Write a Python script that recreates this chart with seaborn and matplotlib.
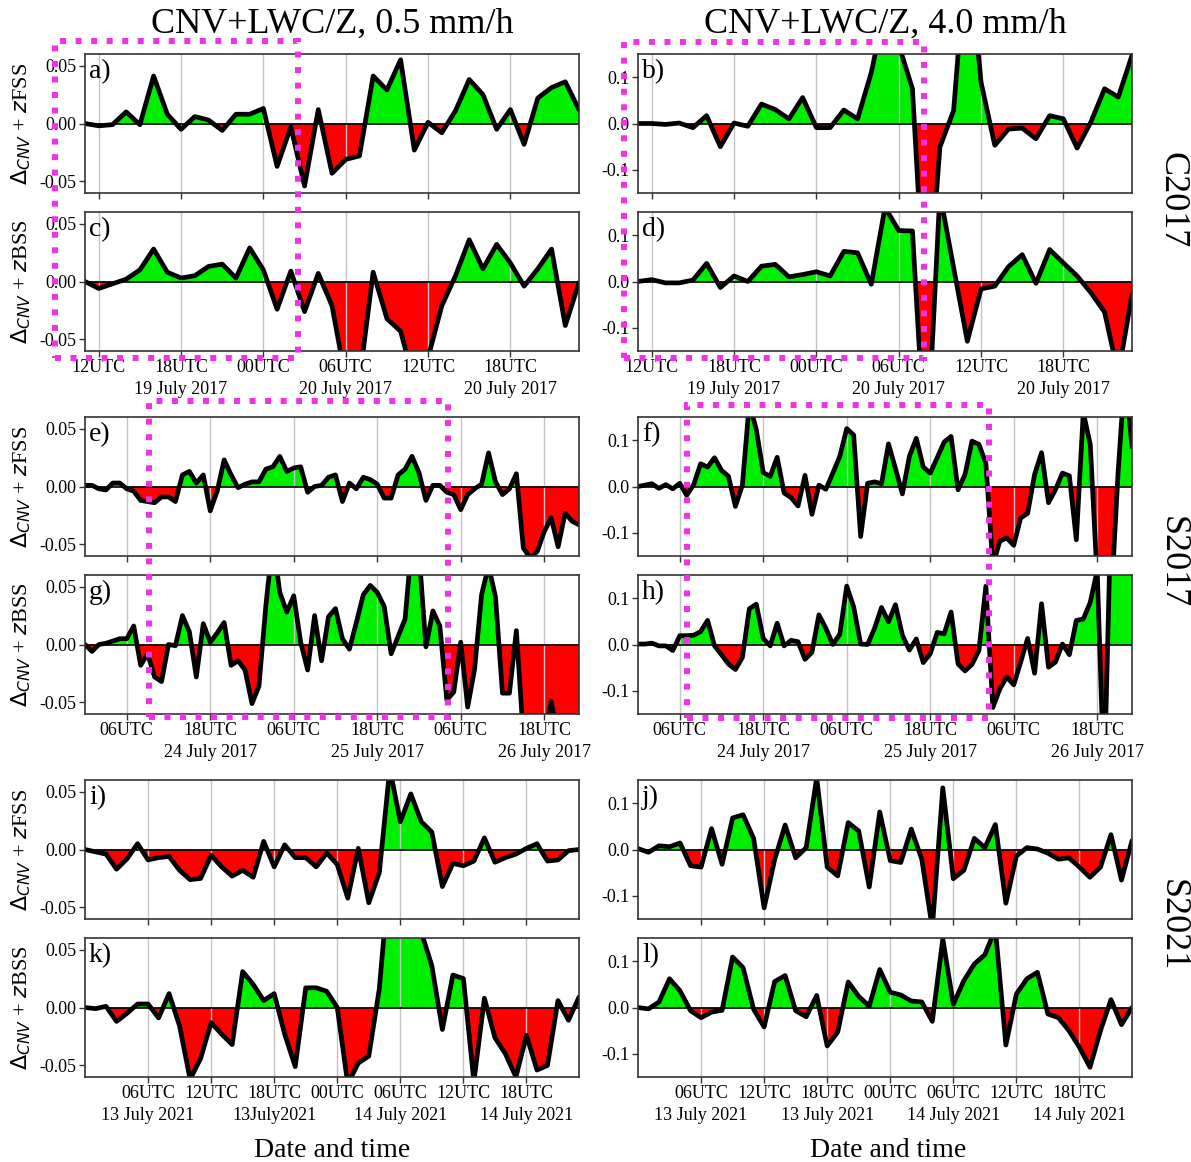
import numpy as np
import pandas as pd
import matplotlib
matplotlib.use("Agg")
import matplotlib.pyplot as plt
import matplotlib.dates as mdates
from matplotlib.patches import Rectangle
from matplotlib.ticker import FormatStrFormatter
import seaborn as sns

sns.set_theme(style="ticks")
plt.rcParams["font.family"] = ["Liberation Serif", "DejaVu Sans"]
plt.rcParams["mathtext.fontset"] = "dejavusans"
plt.rcParams["axes.unicode_minus"] = False
for key in ["text.color", "axes.labelcolor", "xtick.color", "ytick.color"]:
    plt.rcParams[key] = "black"

# ---------------- data ----------------
# C2017 case (hourly from 11UTC 19 July 2017)
c2017_start = "2017-07-19 11:00"
a_fss_05 = [0.0, -0.002, -0.001, 0.010, -0.001, 0.041, 0.008, -0.005, 0.006, 0.003, -0.006, 0.008, 0.008,
            0.013, -0.037, -0.003, -0.054, 0.012, -0.043, -0.031, -0.028, 0.041, 0.029, 0.055, -0.023, 0.001,
            -0.008, 0.011, 0.038, 0.025, -0.005, 0.012, -0.018, 0.022, 0.031, 0.036, 0.012]
c_bss_05 = [0.0, -0.006, -0.002, 0.002, 0.010, 0.028, 0.008, 0.003, 0.005, 0.013, 0.015, 0.003, 0.029,
            0.010, -0.024, 0.009, -0.026, 0.007, -0.021, -0.085, -0.085, 0.008, -0.032, -0.043, -0.087, -0.066,
            -0.021, 0.005, 0.036, 0.011, 0.032, 0.016, -0.004, 0.011, 0.028, -0.038, -0.001]
b_fss_40 = [0.0, 0.0, -0.002, 0.001, -0.009, 0.017, -0.050, 0.001, -0.006, 0.042, 0.030, 0.010, 0.056,
            -0.009, -0.009, 0.029, 0.010, 0.11, 0.25, 0.17, 0.075, -0.45, -0.051, 0.028, 0.4, 0.089,
            -0.047, -0.012, -0.010, -0.033, 0.017, 0.010, -0.053, 0.003, 0.075, 0.057, 0.147]
d_bss_40 = [0.0, 0.004, -0.003, -0.003, 0.003, 0.039, -0.013, 0.012, 0.0, 0.033, 0.037, 0.010, 0.015,
            0.021, 0.012, 0.065, 0.062, -0.006, 0.16, 0.110, 0.109, -0.4, 0.19, 0.03, -0.129, -0.016,
            -0.010, 0.032, 0.058, -0.004, 0.069, 0.040, 0.012, -0.024, -0.066, -0.2, -0.028]
c2017_ticks = ["2017-07-19 12:00", "2017-07-19 18:00", "2017-07-20 00:00",
               "2017-07-20 06:00", "2017-07-20 12:00", "2017-07-20 18:00"]
c2017_hours = ["12UTC", "18UTC", "00UTC", "06UTC", "12UTC", "18UTC"]
c2017_dates = ["", "19 July 2017", "", "20 July 2017", "", "20 July 2017"]

# S2017 case (hourly from 00UTC 24 July 2017)
s2017_start = "2017-07-24 00:00"
e_fss_05 = [0.001, 0.001, -0.002, -0.003, 0.003, 0.003, -0.002, -0.004, -0.012, -0.013, -0.014, -0.009,
            -0.009, -0.013, 0.010, 0.013, 0.003, 0.010, -0.021, -0.004, 0.023, 0.010, -0.001, 0.002,
            0.004, 0.004, 0.015, 0.017, 0.026, 0.013, 0.016, 0.017, -0.005, 0.000, 0.001, 0.008,
            0.010, -0.013, 0.003, -0.002, 0.008, 0.006, 0.002, -0.010, -0.010, 0.010, 0.015, 0.026,
            0.012, -0.012, 0.001, 0.001, -0.005, -0.007, -0.020, -0.007, -0.002, 0.002, 0.029, 0.004,
            -0.007, -0.002, 0.011, -0.053, -0.062, -0.056, -0.039, -0.027, -0.052, -0.023, -0.030, -0.033]
g_bss_05 = [0.0, -0.006, 0.000, 0.001, 0.003, 0.005, 0.005, 0.016, -0.018, -0.008, -0.028, -0.032,
            0.0, -0.001, 0.025, 0.011, -0.028, 0.018, 0.002, 0.010, 0.019, -0.018, -0.014, -0.022,
            -0.051, -0.036, 0.034, 0.09, 0.045, 0.028, 0.042, 0.002, -0.022, 0.025, -0.014, 0.024,
            0.031, 0.005, -0.004, 0.019, 0.043, 0.051, 0.045, 0.033, -0.008, 0.007, 0.022, 0.09,
            0.08, -0.002, 0.029, 0.016, -0.048, -0.041, 0.002, -0.054, -0.021, 0.043, 0.068, 0.041,
            -0.042, -0.042, 0.012, -0.08, -0.08, -0.08, -0.08, -0.049, -0.08, -0.08, -0.08, -0.08]
f_fss_40 = [0.0, 0.003, 0.006, -0.004, 0.004, -0.005, 0.007, -0.019, 0.004, 0.049, 0.042, 0.062,
            0.035, 0.022, -0.043, 0.003, 0.18, 0.123, 0.030, 0.022, 0.063, -0.014, -0.024, -0.042,
            0.024, -0.060, 0.003, -0.006, 0.029, 0.065, 0.125, 0.111, -0.108, 0.007, 0.010, 0.006,
            0.092, 0.039, -0.016, 0.065, 0.104, 0.042, 0.029, 0.062, 0.096, 0.108, -0.007, 0.026,
            0.098, 0.091, 0.050, -0.17, -0.118, -0.111, -0.127, -0.068, -0.058, 0.026, 0.073, -0.035,
            -0.007, 0.029, 0.023, -0.115, 0.16, 0.091, -0.2, -0.3, -0.25, 0.03, 0.25, 0.085]
h_bss_40 = [0.001, 0.001, 0.003, -0.003, -0.003, -0.013, 0.019, 0.019, 0.020, 0.028, 0.052, -0.003,
            -0.022, -0.042, -0.054, -0.028, 0.077, 0.087, 0.013, -0.003, 0.046, -0.003, 0.009, 0.006,
            -0.032, -0.017, 0.064, 0.035, 0.0, 0.022, 0.126, 0.081, 0.001, 0.0, 0.035, 0.080,
            0.049, 0.086, 0.020, -0.012, 0.012, -0.039, -0.020, 0.026, 0.023, 0.070, -0.042, -0.057,
            -0.043, -0.013, 0.126, -0.136, -0.096, -0.070, -0.087, -0.038, 0.013, -0.062, 0.088, -0.049,
            -0.038, 0.001, -0.022, 0.052, 0.055, 0.091, 0.16, -0.3, 0.3, 0.3, 0.3, 0.3]
s2017_ticks = ["2017-07-24 06:00", "2017-07-24 18:00", "2017-07-25 06:00",
               "2017-07-25 18:00", "2017-07-26 06:00", "2017-07-26 18:00"]
s2017_hours = ["06UTC", "18UTC", "06UTC", "18UTC", "06UTC", "18UTC"]
s2017_dates = ["", "24 July 2017", "", "25 July 2017", "", "26 July 2017"]

# S2021 case (hourly from 00UTC 13 July 2021)
s2021_start = "2021-07-13 00:00"
i_fss_05 = [0.0, -0.002, -0.004, -0.017, -0.008, 0.005, -0.009, -0.007, -0.006, -0.018, -0.026, -0.025,
            -0.005, -0.015, -0.023, -0.018, -0.024, 0.007, -0.015, 0.004, -0.007, -0.007, -0.015, -0.003,
            -0.013, -0.042, 0.001, -0.046, -0.020, 0.07, 0.024, 0.048, 0.024, 0.015, -0.032, -0.012,
            -0.014, -0.010, 0.010, -0.011, -0.007, -0.004, 0.001, 0.005, -0.010, -0.009, -0.001, 0.000]
k_bss_05 = [0.0, -0.001, 0.001, -0.012, -0.005, 0.003, 0.003, -0.009, 0.012, -0.016, -0.062, -0.044,
            -0.013, -0.023, -0.032, 0.031, 0.020, 0.006, 0.012, -0.023, -0.051, 0.017, 0.017, 0.014,
            0.000, -0.066, -0.048, -0.042, 0.016, 0.12, 0.10, 0.09, 0.065, 0.036, -0.019, 0.028,
            0.025, -0.064, 0.008, -0.026, -0.040, -0.060, -0.024, -0.054, -0.050, 0.006, -0.011, 0.009]
j_fss_40 = [0.002, -0.006, 0.008, 0.006, 0.014, -0.035, -0.038, 0.045, -0.032, 0.068, 0.075, 0.024,
            -0.126, -0.022, 0.053, -0.018, 0.004, 0.155, -0.038, -0.057, 0.058, 0.040, -0.081, 0.081,
            -0.024, -0.028, 0.044, -0.021, -0.17, 0.133, -0.063, -0.045, 0.024, 0.004, 0.054, -0.116,
            -0.014, 0.004, 0.001, -0.008, -0.021, -0.018, -0.038, -0.060, -0.038, 0.032, -0.066, 0.019]
l_bss_40 = [0.0, -0.003, 0.012, 0.062, 0.036, -0.007, -0.022, -0.010, -0.006, 0.109, 0.086, -0.004,
            -0.042, 0.056, 0.069, -0.007, -0.020, 0.026, -0.083, -0.053, 0.055, 0.024, 0.003, 0.082,
            0.033, 0.027, 0.014, 0.012, -0.030, 0.148, 0.007, 0.058, 0.094, 0.114, 0.17, -0.081,
            0.029, 0.062, 0.076, -0.014, -0.022, -0.050, -0.086, -0.129, -0.050, 0.017, -0.037, 0.0]
s2021_ticks = ["2021-07-13 06:00", "2021-07-13 12:00", "2021-07-13 18:00", "2021-07-14 00:00",
               "2021-07-14 06:00", "2021-07-14 12:00", "2021-07-14 18:00"]
s2021_hours = ["06UTC", "12UTC", "18UTC", "00UTC", "06UTC", "12UTC", "18UTC"]
s2021_dates_left = ["13 July 2021", "", "13July2021", "", "14 July 2021", "", "14 July 2021"]
s2021_dates_right = ["13 July 2021", "", "13 July 2021", "", "14 July 2021", "", "14 July 2021"]

col_titles = ["CNV+LWC/Z, 0.5 mm/h", "CNV+LWC/Z, 4.0 mm/h"]
row_names = ["C2017", "S2017", "S2021"]
ylabel_fss = r"$\Delta_{CNV}$ + $z$FSS"
ylabel_bss = r"$\Delta_{CNV}$ + $z$BSS"
xlabel_text = "Date and time"

# ---------------- layout ----------------
W, H = 1191, 1162
fig = plt.figure(figsize=(W / 100, H / 100), dpi=100)
col_left = [85, 638]
ax_w, ax_h = 494, 139
row_tops = [54, 212, 417, 575, 780, 938]

GREEN = "#00ee00"
RED = "#ff0000"
MAGENTA = "#f032e6"

panels = [
    # (row, col, letter, values, start, ticks, hour labels, date labels, is_bss)
    (0, 0, "a)", a_fss_05, c2017_start, c2017_ticks, c2017_hours, c2017_dates, False),
    (1, 0, "c)", c_bss_05, c2017_start, c2017_ticks, c2017_hours, c2017_dates, True),
    (0, 1, "b)", b_fss_40, c2017_start, c2017_ticks, c2017_hours, c2017_dates, False),
    (1, 1, "d)", d_bss_40, c2017_start, c2017_ticks, c2017_hours, c2017_dates, True),
    (2, 0, "e)", e_fss_05, s2017_start, s2017_ticks, s2017_hours, s2017_dates, False),
    (3, 0, "g)", g_bss_05, s2017_start, s2017_ticks, s2017_hours, s2017_dates, True),
    (2, 1, "f)", f_fss_40, s2017_start, s2017_ticks, s2017_hours, s2017_dates, False),
    (3, 1, "h)", h_bss_40, s2017_start, s2017_ticks, s2017_hours, s2017_dates, True),
    (4, 0, "i)", i_fss_05, s2021_start, s2021_ticks, s2021_hours, s2021_dates_left, False),
    (5, 0, "k)", k_bss_05, s2021_start, s2021_ticks, s2021_hours, s2021_dates_left, True),
    (4, 1, "j)", j_fss_40, s2021_start, s2021_ticks, s2021_hours, s2021_dates_right, False),
    (5, 1, "l)", l_bss_40, s2021_start, s2021_ticks, s2021_hours, s2021_dates_right, True),
]

for row, col, letter, vals, start, ticks, hours, dates, is_bss in panels:
    left = col_left[col]
    top = row_tops[row]
    ax = fig.add_axes([left / W, 1 - (top + ax_h) / H, ax_w / W, ax_h / H])
    y = np.asarray(vals, dtype=float)
    times = pd.date_range(start, periods=len(y), freq="h")
    x = mdates.date2num(times.to_pydatetime())
    df = pd.DataFrame({"t": x, "v": y})

    ax.fill_between(x, y, 0, where=y >= 0, interpolate=True, color=GREEN, lw=0, zorder=2)
    ax.fill_between(x, y, 0, where=y <= 0, interpolate=True, color=RED, lw=0, zorder=2)
    ax.axhline(0, color="black", lw=1.2, zorder=2.6)
    sns.lineplot(data=df, x="t", y="v", ax=ax, color="black", lw=3.4, zorder=3,
                 estimator=None, sort=False, legend=False)

    ax.set_xlim(x[0], x[-1])
    if col == 0:
        ax.set_ylim(-0.06, 0.06)
        ax.set_yticks([-0.05, 0.0, 0.05])
        ax.yaxis.set_major_formatter(FormatStrFormatter("%.2f"))
        ax.set_ylabel(ylabel_bss if is_bss else ylabel_fss, fontsize=16, color="black")
        ax.yaxis.set_label_coords(-0.105, 0.5)
    else:
        ax.set_ylim(-0.15, 0.15)
        ax.set_yticks([-0.1, 0.0, 0.1])
        ax.yaxis.set_major_formatter(FormatStrFormatter("%.1f"))
        ax.set_ylabel("")

    tick_x = mdates.date2num(pd.to_datetime(ticks).to_pydatetime())
    ax.set_xticks(tick_x)
    if is_bss:
        ax.set_xticklabels(hours)
        for tx, dl in zip(tick_x, dates):
            if dl:
                ax.annotate(dl, xy=(tx, 0), xycoords=ax.get_xaxis_transform(),
                            xytext=(0, -21.8), textcoords="offset points",
                            ha="center", va="top", fontsize=13, annotation_clip=False)
    else:
        ax.set_xticklabels([])
    ax.set_xlabel("")
    ax.set_axisbelow(False)
    ax.grid(True, axis="x", color="#c4c4c4", lw=1.0, zorder=2.5)
    ax.grid(False, axis="y")
    ax.tick_params(axis="both", direction="out", length=4, width=1.0, labelsize=13,
                   color="#333333", labelcolor="black", pad=2)
    for sp in ax.spines.values():
        sp.set_visible(True)
        sp.set_color("#333333")
        sp.set_linewidth(1.2)
        sp.set_zorder(4)
    ax.text(0.008, 0.965, letter, transform=ax.transAxes, fontsize=20,
            va="top", ha="left", zorder=6)

# column titles
for cx, t in zip([332, 885], col_titles):
    fig.text(cx / W, 1 - 33 / H, t, ha="center", va="baseline", fontsize=26)

# row names
for cy, name in zip([200, 562, 925], row_names):
    fig.text(1172 / W, 1 - cy / H, name, rotation=-90, ha="center", va="center", fontsize=26)

# x labels
for cx in [332, 888]:
    fig.text(cx / W, 1 - 1157 / H, xlabel_text, ha="center", va="baseline", fontsize=20)

# magenta dotted highlight boxes (pixel coords x0, y0, x1, y1)
boxes = [(55, 41, 298, 358), (149, 401, 448, 717), (624, 42, 924, 358), (687, 405, 989, 718)]
for x0, y0, x1, y1 in boxes:
    r = Rectangle((x0 / W, 1 - y1 / H), (x1 - x0) / W, (y1 - y0) / H,
                  transform=fig.transFigure, fill=False, ec=MAGENTA, lw=4.3,
                  ls=(0, (1, 1.6)), zorder=20)
    fig.add_artist(r)

fig.savefig("out.png", dpi=100, facecolor="white")
